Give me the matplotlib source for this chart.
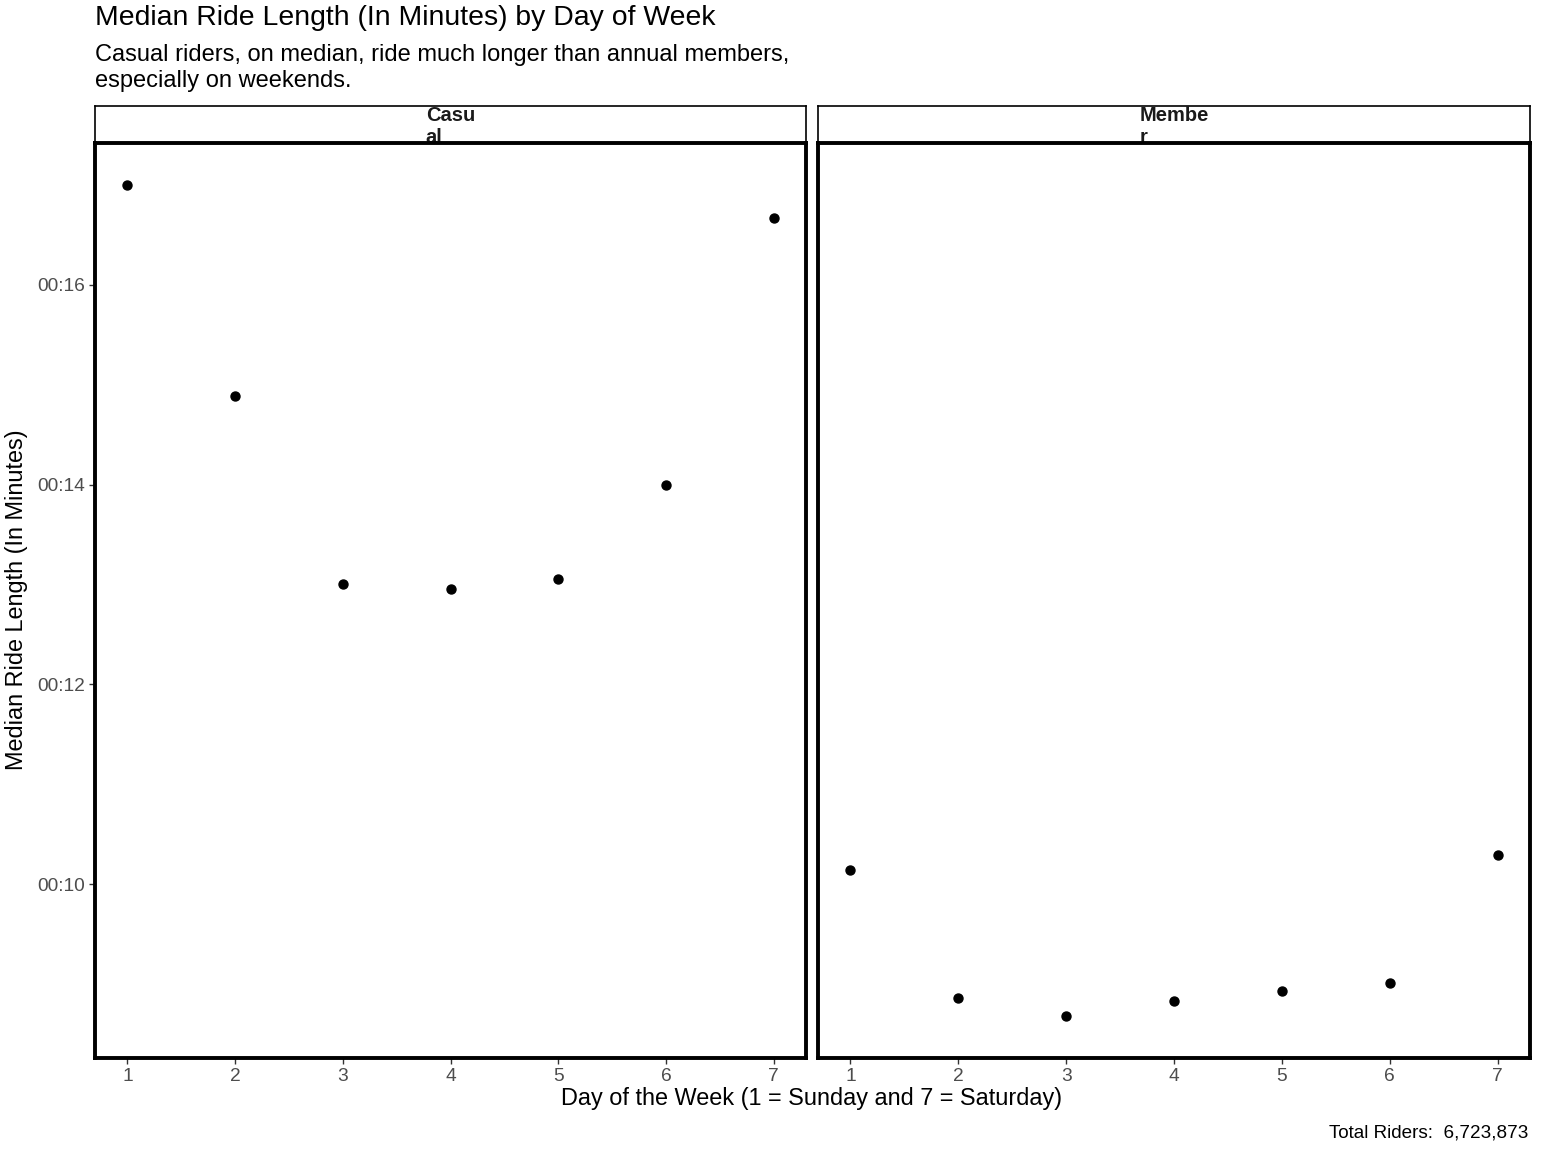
import matplotlib.pyplot as plt
from matplotlib.ticker import FuncFormatter
import numpy as np

plt.rcParams['font.family'] = ['Liberation Sans', 'DejaVu Sans']

# median ride length in minutes, by day of week (1 = Sunday)
days = [1, 2, 3, 4, 5, 6, 7]
casual_minutes = [17.00, 14.89, 13.01, 12.96, 13.06, 14.00, 16.67]
member_minutes = [10.14, 8.86, 8.68, 8.83, 8.93, 9.01, 10.29]
panel_names = ["Casu\nal", "Membe\nr"]
total_riders = 6723873

W, H = 1542, 1152
fig = plt.figure(figsize=(W / 100, H / 100), dpi=100)

def fx(px):
    return px / W

def fy(py):
    return 1 - py / H

panels = [(95, 806), (818, 1530)]
top, bottom, strip_top = 143, 1058, 106

all_vals = casual_minutes + member_minutes
lo, hi = min(all_vals), max(all_vals)
pad = (hi - lo) * 0.05

fmt = FuncFormatter(lambda v, pos: "00:{:02d}".format(int(round(v))))

for i, (series, name) in enumerate(zip([casual_minutes, member_minutes], panel_names)):
    x0, x1 = panels[i]
    ax = fig.add_axes([fx(x0), fy(bottom), fx(x1) - fx(x0), fy(top) - fy(bottom)])
    ax.set_zorder(2)
    ax.scatter(days, series, s=42, color='black', zorder=3)
    ax.set_xlim(0.7, 7.3)
    ax.set_ylim(lo - pad, hi + pad)
    ax.set_xticks(days)
    ax.set_yticks([10, 12, 14, 16])
    ax.yaxis.set_major_formatter(fmt)
    for s in ax.spines.values():
        s.set_linewidth(2.8)
        s.set_color('black')
    ax.tick_params(length=4, width=1, color='#333333', labelcolor='#4D4D4D',
                   labelsize=13.8, pad=3)
    if i == 1:
        ax.tick_params(axis='y', left=False, labelleft=False)

    # facet strip (text overflows and is cut by the panel below)
    sa = fig.add_axes([fx(x0), fy(top), fx(x1) - fx(x0), fy(strip_top) - fy(top)])
    sa.set_zorder(1)
    sa.set_xticks([])
    sa.set_yticks([])
    for s in sa.spines.values():
        s.set_linewidth(1.2)
    sa.text(0.5, 0.44, name, ha='center', va='center', multialignment='left',
            fontsize=14.5, fontweight='bold', color='#1A1A1A', linespacing=1.2,
            transform=sa.transAxes)

fig.text(fx(95), fy(18), "Median Ride Length (In Minutes) by Day of Week",
         fontsize=20.4, ha='left', va='center')
fig.text(fx(95), fy(68), "Casual riders, on median, ride much longer than annual members,\nespecially on weekends.",
         fontsize=17, ha='left', va='center', linespacing=1.22)
fig.text(fx(17), fy(600), "Median Ride Length (In Minutes)", rotation=90,
         fontsize=16.9, ha='center', va='center')
fig.text(fx(812), fy(1099), "Day of the Week (1 = Sunday and 7 = Saturday)",
         fontsize=16.9, ha='center', va='center')
fig.text(fx(1528), fy(1133), "Total Riders:  {:,}".format(total_riders),
         fontsize=13.6, ha='right', va='center')

fig.savefig("out.png", dpi=100)
